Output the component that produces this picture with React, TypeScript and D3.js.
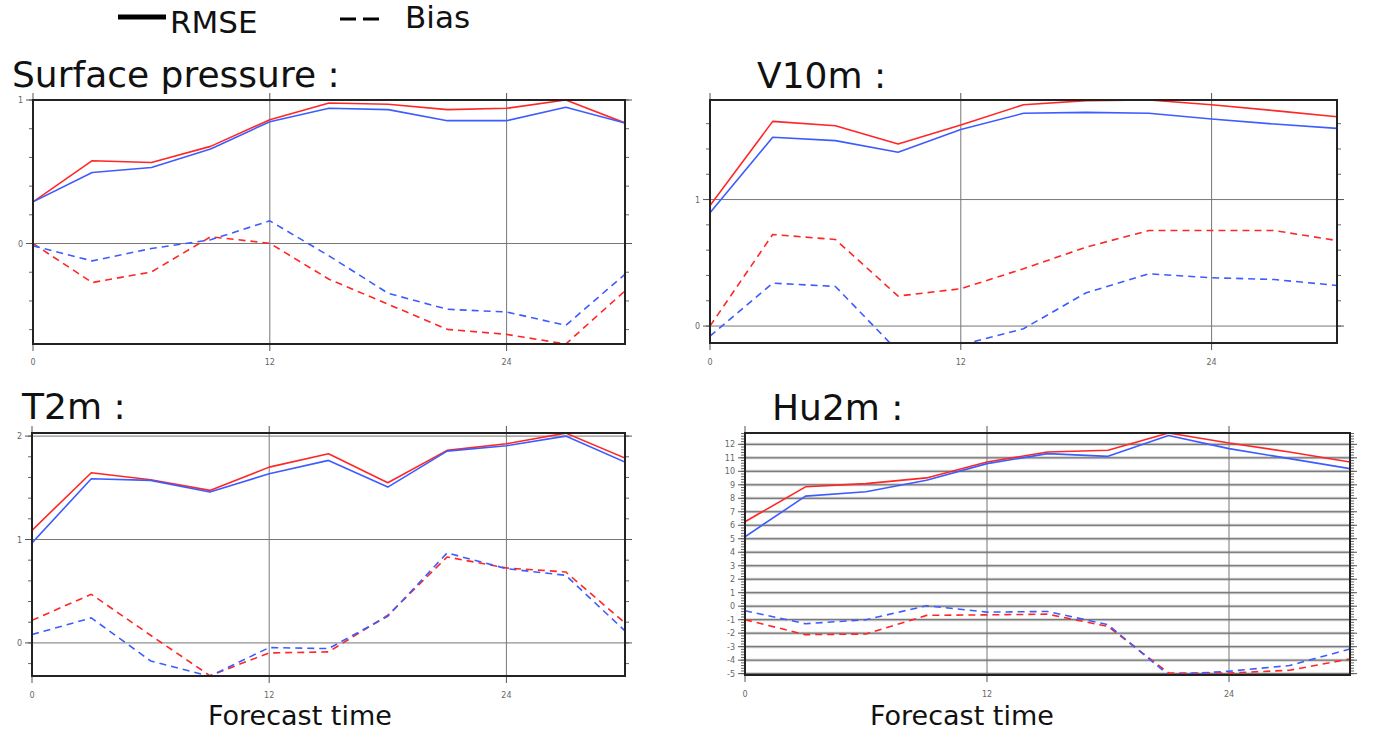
import React from "react";
import * as d3 from "d3";

const hours = [0, 3, 6, 9, 12, 15, 18, 21, 24, 27, 30];
const xTickValues = [0, 12, 24];

// Surface pressure
const spRmseRed = [0.29, 0.577, 0.565, 0.677, 0.863, 0.979, 0.97, 0.933, 0.942, 1.0, 0.84];
const spRmseBlue = [0.29, 0.495, 0.53, 0.658, 0.849, 0.942, 0.933, 0.856, 0.856, 0.949, 0.84];
const spBiasRed = [0, -0.272, -0.198, 0.047, 0.002, -0.249, -0.423, -0.598, -0.633, -0.7, -0.33];
const spBiasBlue = [-0.016, -0.121, -0.035, 0.026, 0.158, -0.086, -0.347, -0.458, -0.477, -0.57, -0.214];

// V10m
const vRmseRed = [0.953, 1.618, 1.584, 1.439, 1.589, 1.75, 1.782, 1.787, 1.75, 1.703, 1.655];
const vRmseBlue = [0.895, 1.492, 1.466, 1.374, 1.553, 1.682, 1.689, 1.682, 1.637, 1.597, 1.563];
const vBiasRed = [0, 0.724, 0.684, 0.237, 0.295, 0.453, 0.624, 0.755, 0.755, 0.755, 0.676];
const vBiasBlue = [-0.079, 0.339, 0.313, -0.2, -0.15, -0.021, 0.263, 0.413, 0.382, 0.368, 0.321];

// T2m
const tRmseRed = [1.089, 1.646, 1.578, 1.475, 1.7, 1.829, 1.549, 1.862, 1.926, 2.029, 1.787];
const tRmseBlue = [0.966, 1.588, 1.572, 1.459, 1.636, 1.765, 1.507, 1.855, 1.907, 2.0, 1.749];
const tBiasRed = [0.219, 0.47, 0.074, -0.316, -0.097, -0.087, 0.267, 0.831, 0.725, 0.686, 0.193];
const tBiasBlue = [0.081, 0.242, -0.174, -0.322, -0.045, -0.055, 0.258, 0.87, 0.718, 0.654, 0.116];

// Hu2m
const hRmseRed = [6.26, 8.85, 9.09, 9.51, 10.69, 11.43, 11.56, 12.84, 12.1, 11.43, 10.69];
const hRmseBlue = [5.15, 8.16, 8.48, 9.34, 10.57, 11.31, 11.11, 12.66, 11.68, 10.94, 10.2];
const hBiasRed = [-1.0, -2.11, -2.06, -0.68, -0.64, -0.59, -1.5, -4.95, -4.95, -4.75, -3.91];
const hBiasBlue = [-0.34, -1.3, -1.0, 0.03, -0.44, -0.39, -1.37, -5.1, -4.82, -4.4, -3.17];

const titles = ["Surface pressure :", "V10m :", "T2m :", "Hu2m :"];
const xLabel = "Forecast time";
const legendLabels = ["RMSE", "Bias"];

const RED = "#ff2626";
const BLUE = "#3d5cff";
const FONT = "'DejaVu Sans', Verdana, sans-serif";

type PanelSpec = {
  title: string;
  titleX: number;
  titleY: number;
  box: [number, number, number, number]; // x0, x1, y0, y1
  domain: [number, number];
  labels: number[];
  grid: number[];
  rmseRed: number[];
  rmseBlue: number[];
  biasRed: number[];
  biasBlue: number[];
  xLabelY: number;
  dense?: boolean;
};

const panels: PanelSpec[] = [
  { title: titles[0], titleX: 12, titleY: 87, box: [33, 625, 100, 344], domain: [-0.7, 1.0], labels: [0, 1], grid: [0], rmseRed: spRmseRed, rmseBlue: spRmseBlue, biasRed: spBiasRed, biasBlue: spBiasBlue, xLabelY: 365 },
  { title: titles[1], titleX: 757, titleY: 88, box: [710, 1337, 100, 343], domain: [-0.134, 1.787], labels: [0, 1], grid: [0, 1], rmseRed: vRmseRed, rmseBlue: vRmseBlue, biasRed: vBiasRed, biasBlue: vBiasBlue, xLabelY: 365 },
  { title: titles[2], titleX: 22, titleY: 419, box: [32, 625, 433, 676], domain: [-0.32, 2.03], labels: [0, 1, 2], grid: [0, 1, 2], rmseRed: tRmseRed, rmseBlue: tRmseBlue, biasRed: tBiasRed, biasBlue: tBiasBlue, xLabelY: 698 },
  { title: titles[3], titleX: 772, titleY: 420, box: [745, 1350, 433, 675], domain: [-5.1, 12.84], labels: d3.range(-5, 13), grid: d3.range(-5, 13), rmseRed: hRmseRed, rmseBlue: hRmseBlue, biasRed: hBiasRed, biasBlue: hBiasBlue, xLabelY: 697, dense: true },
];

function Panel({ p, idx }: { p: PanelSpec; idx: number }) {
  const [x0, x1, y0, y1] = p.box;
  const x = d3.scaleLinear().domain([0, 30]).range([x0, x1]);
  const y = d3.scaleLinear().domain(p.domain).range([y1, y0]);
  const line = (vals: number[]) =>
    d3.line<number>().x((_, i) => x(hours[i])).y((v) => y(v))(vals) || "";
  const clipId = `clip${idx}`;
  const minor = d3.range(Math.ceil(p.domain[0] * 5), Math.floor(p.domain[1] * 5) + 1).map((k) => k / 5);
  return (
    <g>
      <defs>
        <clipPath id={clipId}>
          <rect x={x0} y={y0} width={x1 - x0} height={y1 - y0} />
        </clipPath>
      </defs>
      <text x={p.titleX} y={p.titleY} fontSize={36} fontFamily={FONT} fill="#111">{p.title}</text>
      {/* grid */}
      {p.grid.map((g) => (
        <g key={"g" + g}>
          {p.dense && <line x1={x0} x2={x1} y1={y(g)} y2={y(g)} stroke="#cfcfcf" strokeWidth={3} />}
          <line x1={x0} x2={x1} y1={y(g)} y2={y(g)} stroke={p.dense ? "#666" : "#777"} strokeWidth={1} />
        </g>
      ))}
      {xTickValues.filter((t) => t > 0).map((t) => (
        <line key={"v" + t} x1={x(t)} x2={x(t)} y1={y0} y2={y1} stroke="#777" strokeWidth={1} />
      ))}
      {/* minor y ticks */}
      {minor.map((m) => (
        <g key={"m" + m}>
          <line x1={x0 - 4} x2={x0} y1={y(m)} y2={y(m)} stroke="#666" strokeWidth={1} />
          <line x1={x1} x2={x1 + 4} y1={y(m)} y2={y(m)} stroke="#666" strokeWidth={1} />
        </g>
      ))}
      {p.labels.map((l) => (
        <g key={"l" + l}>
          <line x1={x0 - 7} x2={x0} y1={y(l)} y2={y(l)} stroke="#555" strokeWidth={1} />
          <line x1={x1} x2={x1 + 7} y1={y(l)} y2={y(l)} stroke="#555" strokeWidth={1} />
          <text x={x0 - 10} y={y(l) + 3} fontSize={8} fontFamily={FONT} fill="#666" textAnchor="end">{l}</text>
        </g>
      ))}
      {/* x ticks */}
      {xTickValues.map((t) => (
        <g key={"x" + t}>
          <line x1={x(t)} x2={x(t)} y1={y0 - 7} y2={y0} stroke="#555" strokeWidth={1} />
          <line x1={x(t)} x2={x(t)} y1={y1} y2={y1 + 7} stroke="#555" strokeWidth={1} />
          <text x={x(t)} y={p.xLabelY} fontSize={8} fontFamily={FONT} fill="#666" textAnchor="middle">{t}</text>
        </g>
      ))}
      <g clipPath={`url(#${clipId})`} fill="none" strokeWidth={1.6} strokeLinejoin="round">
        <path d={line(p.rmseRed)} stroke={RED} />
        <path d={line(p.rmseBlue)} stroke={BLUE} />
        <path d={line(p.biasRed)} stroke={RED} strokeDasharray="7,5" />
        <path d={line(p.biasBlue)} stroke={BLUE} strokeDasharray="7,5" />
      </g>
      <rect x={x0} y={y0} width={x1 - x0} height={y1 - y0} fill="none" stroke="#222" strokeWidth={2} />
    </g>
  );
}

export default function App() {
  return (
    <svg width={1394} height={733} style={{ position: "absolute", left: 0, top: 0, background: "#fff" }}>
      <rect width={1394} height={733} fill="#fff" />
      {/* legend */}
      <line x1={118} x2={166} y1={17} y2={17} stroke="#000" strokeWidth={5} />
      <text x={170} y={33} fontSize={31} fontFamily={FONT} fill="#111">{legendLabels[0]}</text>
      <line x1={340} x2={384} y1={19} y2={19} stroke="#000" strokeWidth={3} strokeDasharray="16,7" />
      <text x={405} y={28} fontSize={31} fontFamily={FONT} fill="#111">{legendLabels[1]}</text>
      {panels.map((p, i) => (
        <Panel key={i} p={p} idx={i} />
      ))}
      <text x={208} y={725} fontSize={27} fontFamily={FONT} fill="#111">{xLabel}</text>
      <text x={870} y={725} fontSize={27} fontFamily={FONT} fill="#111">{xLabel}</text>
    </svg>
  );
}
